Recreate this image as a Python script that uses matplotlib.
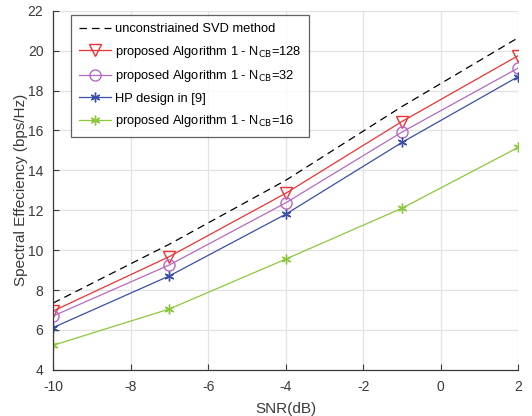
import numpy as np
import matplotlib.pyplot as plt

plt.rcParams['font.family'] = ['Liberation Sans', 'DejaVu Sans']
plt.rcParams['axes.unicode_minus'] = False

snr = [-10, -7, -4, -1, 2]
svd = [7.35, 10.3, 13.5, 17.2, 20.65]
alg_128 = [6.95, 9.68, 12.85, 16.45, 19.75]
alg_32 = [6.7, 9.26, 12.37, 15.92, 19.13]
hp_ref9 = [6.12, 8.71, 11.8, 15.4, 18.7]
alg_16 = [5.23, 7.05, 9.55, 12.1, 15.15]

fig = plt.figure(figsize=(5.32, 4.16), dpi=100)
ax = fig.add_axes([0.1, 0.111, 0.874, 0.863])

ax.plot(snr, svd, color='black', linestyle=(0, (6, 4)), linewidth=0.9,
        label='unconstriained SVD method')
ax.plot(snr, alg_128, color='#f03232', marker='v', markersize=8, markerfacecolor='none',
        linewidth=0.9, label='proposed Algorithm 1 - N$_{\\mathrm{CB}}$=128')
ax.plot(snr, alg_32, color='#b469c2', marker='o', markersize=8, markerfacecolor='none',
        linewidth=0.9, label='proposed Algorithm 1 - N$_{\\mathrm{CB}}$=32')
ax.plot(snr, hp_ref9, color='#3a4fa8', marker=(6, 2, 0), markersize=7,
        linewidth=0.9, label='HP design in [9]')
ax.plot(snr, alg_16, color='#8cc83c', marker=(6, 2, 0), markersize=7,
        linewidth=0.9, label='proposed Algorithm 1 - N$_{\\mathrm{CB}}$=16')

ax.set_xlim(-10, 2)
ax.set_ylim(4, 22)
ax.set_xticks(np.arange(-10, 3, 2))
ax.set_yticks(np.arange(4, 23, 2))
ax.grid(True, color='#e2e2e2', linewidth=0.9)
ax.set_axisbelow(True)
ax.tick_params(labelsize=10, direction='in', length=4, pad=7, colors='#3a3a3a')
ax.spines['top'].set_visible(False)
ax.spines['right'].set_visible(False)
for s in ('left', 'bottom'):
    ax.spines[s].set_color('#3a3a3a')
    ax.spines[s].set_linewidth(0.9)

ax.set_xlabel('SNR(dB)', fontsize=11, color='#3a3a3a', labelpad=6)
ax.set_ylabel('Spectral Effeciency (bps/Hz)', fontsize=11, color='#3a3a3a', labelpad=0)

leg = ax.legend(loc='upper left', bbox_to_anchor=(0.039, 0.987), fontsize=9.3,
                fancybox=False, edgecolor='#3a3a3a', handlelength=2.5,
                labelspacing=0.66, borderpad=0.6, handletextpad=0.3,
                borderaxespad=0)
leg.get_frame().set_linewidth(0.9)

fig.savefig('out.png', dpi=100)
